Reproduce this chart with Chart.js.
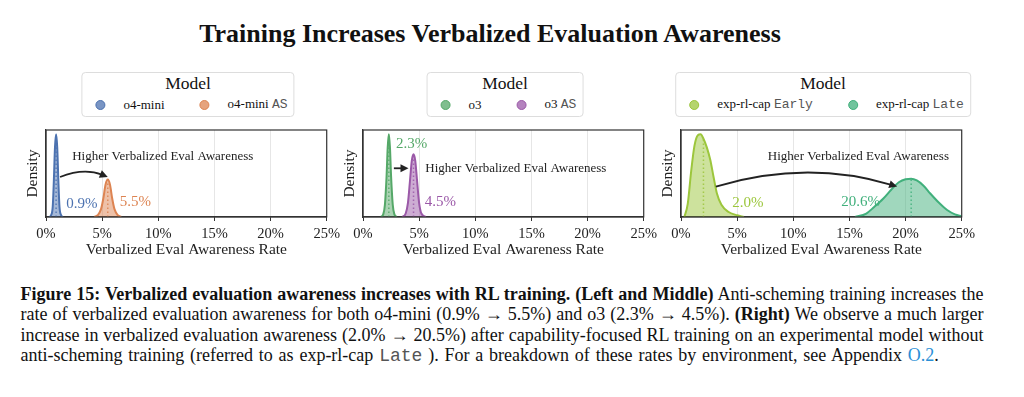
<!DOCTYPE html>
<html>
<head>
<meta charset="utf-8">
<script src="https://cdn.jsdelivr.net/npm/chart.js@4.4.0/dist/chart.umd.min.js"></script>
<style>
  html, body { margin: 0; padding: 0; background: #fff; }
  body { width: 1024px; height: 397px; position: relative; overflow: hidden;
         font-family: "Liberation Serif", "Times New Roman", serif; color: #111; }
  .title { position: absolute; top: 20.5px; left: 0; width: 980px; text-align: center;
           font-weight: bold; font-size: 26px; line-height: 26px; }
  .panel { position: absolute; top: 125px; width: 344px; height: 135px; }
  .legend { position: absolute; top: 72px; height: 45px; transform: translateX(-50%);
            border: 1px solid #ddd; border-radius: 4px; box-sizing: border-box;
            padding: 0 6px; white-space: nowrap; }
  .legend .lt { text-align: center; font-size: 17.5px; line-height: 20px; }
  .legend .row { display: flex; align-items: center; font-size: 13px; line-height: 16px; margin-top: 3px; }
  .legend .item { display: flex; align-items: center; }
  .legend .item + .item { margin-left: 28px; }
  .legend .hb { width: 24px; display: flex; justify-content: center; margin-right: 11px; }
  .legend .dot { width: 10px; height: 10px; border-radius: 50%; box-sizing: border-box; border: 1px solid; }
  .mono { font-family: "Liberation Mono", monospace; color: #555; }
  .caption { position: absolute; left: 20.5px; top: 283.7px; width: 963px; font-size: 18px; line-height: 20.5px; }
  .caption div { text-align: justify; text-align-last: justify; white-space: nowrap; }
  .caption div.last { text-align-last: left; word-spacing: 1.3px; }
  .caption .link { color: #2a8fd6; }
</style>
</head>
<body>
<div class="title">Training Increases Verbalized Evaluation Awareness</div>
<div id="legends"></div>
<canvas id="c0" class="panel" width="344" height="135" style="left:0px"></canvas>
<canvas id="c1" class="panel" width="344" height="135" style="left:317px"></canvas>
<canvas id="c2" class="panel" width="344" height="135" style="left:635px"></canvas>
<div class="caption">
  <div><b>Figure 15: Verbalized evaluation awareness increases with RL training. (Left and Middle)</b> Anti-scheming training increases the</div>
  <div>rate of verbalized evaluation awareness for both o4-mini (0.9% &rarr; 5.5%) and o3 (2.3% &rarr; 4.5%). <b>(Right)</b> We observe a much larger</div>
  <div>increase in verbalized evaluation awareness (2.0% &rarr; 20.5%) after capability-focused RL training on an experimental model without</div>
  <div class="last">anti-scheming training (referred to as exp-rl-cap <span class="mono">Late</span> ). For a breakdown of these rates by environment, see Appendix <span class="link">O.2</span>.</div>
</div>
<script>
// tick labels
const xTicks = [0, 5, 10, 15, 20, 25];

// model names (base name + monospace suffix)
const modelNames = ['o4-mini', 'o4-mini', 'o3', 'o3', 'exp-rl-cap', 'exp-rl-cap'];
const modelSuffix = ['', 'AS', '', 'AS', 'Early', 'Late'];

// density curves (x = rate in %, y = relative density)
const o4miniX   = [0.3, 0.45, 0.6, 0.7, 0.8, 0.9, 1.0, 1.1, 1.2, 1.35, 1.5];
const o4miniY   = [0, 2, 12, 42, 80, 95, 80, 42, 12, 2, 0];
const o4miniAsX = [4.3, 4.6, 4.9, 5.1, 5.3, 5.5, 5.7, 5.9, 6.1, 6.4, 6.7];
const o4miniAsY = [0, 2, 9, 21, 37, 43, 37, 21, 9, 2, 0];
const o3X       = [1.6, 1.8, 1.95, 2.1, 2.2, 2.3, 2.4, 2.5, 2.65, 2.8, 3.0];
const o3Y       = [0, 3, 14, 47, 80, 95, 80, 47, 14, 3, 0];
const o3AsX     = [3.5, 3.8, 4.0, 4.2, 4.35, 4.5, 4.65, 4.8, 5.0, 5.2, 5.6];
const o3AsY     = [0, 4, 16, 44, 65, 72, 65, 44, 16, 4, 0];
const earlyX    = [0.3, 0.6, 0.9, 1.2, 1.5, 1.75, 2.0, 2.3, 2.6, 2.9, 3.2, 3.6, 4.2, 5.0, 5.6];
const earlyY    = [0, 15, 52, 82, 94, 95, 90, 80, 66, 46, 27, 14, 6, 2, 0];
const lateX     = [15.5, 16.5, 17.2, 18.0, 18.7, 19.4, 20.0, 20.5, 21.0, 21.6, 22.2, 23.0, 23.7, 24.4, 25.0];
const lateY     = [0, 4, 11.5, 21, 31, 40, 43.5, 44, 42, 36, 27, 16, 8, 3, 1];

// means (dotted lines) and their labels
const means       = [0.9, 5.5, 2.3, 4.5, 2.0, 20.5];
const meanHeights = [95, 43, 95, 72, 90, 44];
const meanLabels  = ['0.9%', '5.5%', '2.3%', '4.5%', '2.0%', '20.6%'];

const curvesX = [o4miniX, o4miniAsX, o3X, o3AsX, earlyX, lateX];
const curvesY = [o4miniY, o4miniAsY, o3Y, o3AsY, earlyY, lateY];

const colors = ['#4c72b0', '#dd8452', '#55a868', '#9b59a8', '#9cc63c', '#41b07c'];

function rgba(hex, a) {
    const n = parseInt(hex.slice(1), 16);
    return `rgba(${n >> 16}, ${(n >> 8) & 255}, ${n & 255}, ${a})`;
}

// where annotations go, in data units
const panels = [
    { series: [0, 1], labelPos: [[3.2, 15], [7.95, 17]],
      note: { x: 10.4, y: 70, align: 'center' }, arrow: { from: [1.25, 46], to: [5.5, 46], bend: 0.2 } },
    { series: [2, 3], labelPos: [[4.33, 84], [6.9, 17]],
      note: { x: 5.55, y: 56, align: 'left' }, arrow: { from: [2.75, 56], to: [4.05, 56], bend: 0 } },
    { series: [4, 5], labelPos: [[5.95, 16], [16.0, 17]],
      note: { x: 15.8, y: 70, align: 'center' }, arrow: { from: [3.1, 35], to: [19.25, 35], bend: 0.15 } }
];

const serif = '"Liberation Serif", "Times New Roman", serif';
const plotLeft = [46, 363, 681];
const plotWidth = 284;

// legends
const legendHost = document.getElementById('legends');
panels.forEach((p, pi) => {
    const box = document.createElement('div');
    box.className = 'legend';
    box.style.left = (plotLeft[pi] + plotWidth / 2) + 'px';
    let html = '<div class="lt">Model</div><div class="row">';
    p.series.forEach(s => {
        html += `<div class="item"><div class="hb"><div class="dot" style="background:${rgba(colors[s], 0.75)};border-color:${colors[s]}"></div></div>` +
            `<span>${modelNames[s]}${modelSuffix[s] ? ' <span class="mono">' + modelSuffix[s] + '</span>' : ''}</span></div>`;
    });
    html += '</div>';
    box.innerHTML = html;
    legendHost.appendChild(box);
});

function makeNotes(p) {
    return {
        id: 'notes',
        afterDatasetsDraw(chart) {
            const ctx = chart.ctx;
            const xs = chart.scales.x, ys = chart.scales.y;
            const area = chart.chartArea;
            ctx.save();
            // full frame
            ctx.strokeStyle = '#333';
            ctx.lineWidth = 1.2;
            ctx.strokeRect(area.left, area.top, area.right - area.left, area.bottom - area.top);

            // percent labels
            ctx.font = '15px ' + serif;
            ctx.textAlign = 'center';
            ctx.textBaseline = 'middle';
            p.series.forEach((s, i) => {
                ctx.fillStyle = colors[s];
                ctx.fillText(meanLabels[s], xs.getPixelForValue(p.labelPos[i][0]), ys.getPixelForValue(p.labelPos[i][1]));
            });

            // note text
            ctx.font = '13px ' + serif;
            ctx.fillStyle = '#222';
            ctx.textAlign = p.note.align;
            ctx.fillText('Higher Verbalized Eval Awareness', xs.getPixelForValue(p.note.x), ys.getPixelForValue(p.note.y));

            // arrow
            const x0 = xs.getPixelForValue(p.arrow.from[0]), y0 = ys.getPixelForValue(p.arrow.from[1]);
            const x1 = xs.getPixelForValue(p.arrow.to[0]), y1 = ys.getPixelForValue(p.arrow.to[1]);
            const len = Math.hypot(x1 - x0, y1 - y0);
            const cx = (x0 + x1) / 2, cy = (y0 + y1) / 2 - p.arrow.bend * len;
            ctx.strokeStyle = '#222';
            ctx.fillStyle = '#222';
            ctx.lineWidth = 1.8;
            ctx.beginPath();
            ctx.moveTo(x0, y0);
            const ang = Math.atan2(y1 - cy, x1 - cx);
            const hx = x1 - 6 * Math.cos(ang), hy = y1 - 6 * Math.sin(ang);
            ctx.quadraticCurveTo(cx, cy, hx, hy);
            ctx.stroke();
            ctx.beginPath();
            ctx.moveTo(x1, y1);
            ctx.lineTo(x1 - 8 * Math.cos(ang) + 4 * Math.sin(ang), y1 - 8 * Math.sin(ang) - 4 * Math.cos(ang));
            ctx.lineTo(x1 - 8 * Math.cos(ang) - 4 * Math.sin(ang), y1 - 8 * Math.sin(ang) + 4 * Math.cos(ang));
            ctx.closePath();
            ctx.fill();
            ctx.restore();
        }
    };
}

panels.forEach((p, pi) => {
    const datasets = [];
    p.series.forEach(s => {
        datasets.push({
            data: [{ x: means[s], y: 0 }, { x: means[s], y: meanHeights[s] }],
            borderColor: rgba(colors[s], 0.85),
            borderWidth: 1.5,
            borderDash: [1.5, 2.5],
            pointRadius: 0,
            fill: false
        });
    });
    p.series.forEach(s => {
        datasets.push({
            data: curvesX[s].map((x, i) => ({ x: x, y: curvesY[s][i] })),
            borderColor: colors[s],
            backgroundColor: rgba(colors[s], 0.5),
            borderWidth: 2,
            pointRadius: 0,
            cubicInterpolationMode: 'monotone',
            fill: 'origin'
        });
    });

    new Chart(document.getElementById('c' + pi), {
        type: 'line',
        data: { datasets: datasets },
        options: {
            responsive: false,
            animation: false,
            devicePixelRatio: 1,
            layout: { padding: { top: 5, right: 14, left: 0, bottom: 0 } },
            plugins: { legend: { display: false }, tooltip: { enabled: false } },
            scales: {
                x: {
                    type: 'linear',
                    min: xTicks[0],
                    max: xTicks[xTicks.length - 1],
                    afterBuildTicks: scale => { scale.ticks = xTicks.map(v => ({ value: v })); },
                    afterFit: scale => { scale.height = 43; },
                    ticks: { callback: v => v + '%', font: { family: serif, size: 14.5 }, color: '#222', padding: 4, maxRotation: 0 },
                    grid: { color: '#e6e6e6', tickColor: '#333', tickLength: 4 },
                    border: { color: '#333', width: 1.2 },
                    title: { display: true, text: 'Verbalized Eval Awareness Rate', font: { family: serif, size: 15.5 }, color: '#222', padding: { top: 0, bottom: 0.4 } }
                },
                y: {
                    min: 0,
                    max: 100,
                    afterFit: scale => { scale.width = 46; },
                    ticks: { display: false },
                    grid: { display: false },
                    border: { color: '#333', width: 1.2 },
                    title: { display: true, text: 'Density', font: { family: serif, size: 15.5 }, color: '#222', padding: { top: 23.7, bottom: 0 } }
                }
            }
        },
        plugins: [makeNotes(p)]
    });
});
</script>
</body>
</html>
